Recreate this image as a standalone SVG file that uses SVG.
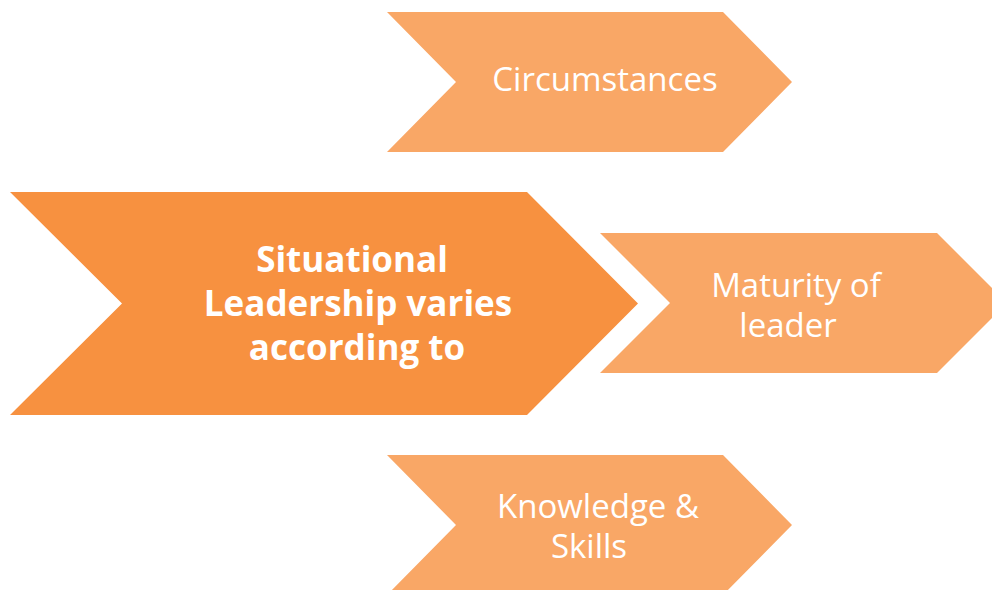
<svg xmlns="http://www.w3.org/2000/svg" width="992" height="590" viewBox="0 0 992 590">
<style>
.main{fill:#F79140}
.sub{fill:#F9A766}
.t{font-family:"Open Sans","Noto Sans",sans-serif;fill:#FFFFFF;text-anchor:middle}
.tb{font-size:35px;font-weight:700}
.tl{font-size:33px;font-weight:400}
</style>
<rect width="992" height="590" fill="#FFFFFF"/>
<g id="connectors"></g>
<g id="main">
<polygon class="main" points="10,192 527,192 638,303.5 527,415 10,415 122,303.5"/>
<text class="t tb" x="352" y="272">Situational</text>
<text class="t tb" x="358" y="316">Leadership varies</text>
<text class="t tb" x="357" y="360">according to</text>
</g>
<g id="circumstances">
<polygon class="sub" points="387,12 723,12 792,82 723,152 387,152 456,82"/>
<text class="t tl" x="605" y="91">Circumstances</text>
</g>
<g id="maturity">
<polygon class="sub" points="600,233 937,233 1007,303 937,373 600,373 670,303"/>
<text class="t tl" x="796" y="297">Maturity of</text>
<text class="t tl" x="788" y="337">leader</text>
</g>
<g id="knowledge">
<polygon class="sub" points="387,455 723,455 792,525 723,595 387,595 456,525"/>
<text class="t tl" x="598" y="518">Knowledge &amp;</text>
<text class="t tl" x="589" y="558">Skills</text>
</g>
</svg>
